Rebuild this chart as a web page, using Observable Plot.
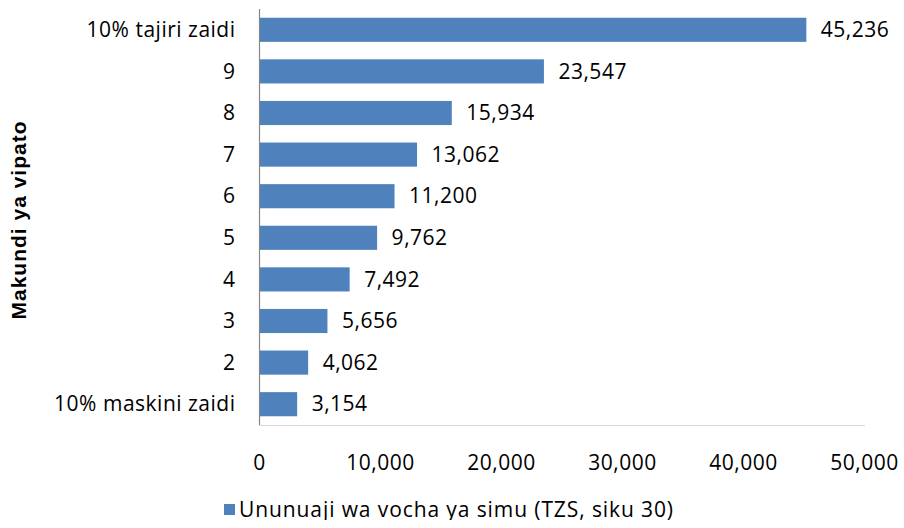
<!DOCTYPE html>
<html><head><meta charset="utf-8">
<script src="https://cdn.jsdelivr.net/npm/d3@7"></script>
<script src="https://cdn.jsdelivr.net/npm/@observablehq/plot@0.6"></script>
<style>
body{margin:0;background:#fff;font-family:"Open Sans",sans-serif;overflow:hidden}
#chart svg{display:block}
#legend{display:flex;justify-content:center;align-items:center;height:22px;line-height:22px;font-size:21px;color:#000;margin-top:12px;margin-left:-6px;letter-spacing:0.9px}
#legend span.sw{display:inline-block;width:11px;height:11px;background:#4F81BD;margin-right:4px}
</style></head>
<body>
<div id="chart"></div>
<div id="legend"><span class="sw"></span><span>Ununuaji wa vocha ya simu (TZS, siku 30)</span></div>
<script>
const categories = ["10% tajiri zaidi","9","8","7","6","5","4","3","2","10% maskini zaidi"];
const values = [45236,23547,15934,13062,11200,9762,7492,5656,4062,3154];
const xTicks = [0,10000,20000,30000,40000,50000];
const seriesName = "Ununuaji wa vocha ya simu (TZS, siku 30)";
const yTitle = "Makundi ya vipato";

const data = categories.map((c,i)=>({cat:c, v:values[i]}));
const fmt = d3.format(",");

const plot = Plot.plot({
  width: 904,
  height: 486,
  marginLeft: 259,
  marginRight: 40,
  marginTop: 9,
  marginBottom: 61,
  style: {fontFamily: '"Open Sans", sans-serif', fontSize: "21px", color: "#000", background: "#fff", letterSpacing: "0.5px"},
  x: {domain: [0, 50000], ticks: xTicks, tickFormat: fmt, label: null},
  y: {domain: categories, label: null, paddingInner: 0.42, paddingOuter: 0.21, round: false},
  marks: [
    Plot.barX(data, {x: "v", y: "cat", fill: "#4F81BD"}),
    Plot.text(data, {x: "v", y: "cat", text: d => fmt(d.v), dx: 14, textAnchor: "start", fontSize: 21, fill: "#000"}),
    Plot.frame({anchor: "bottom", stroke: "#d9d9d9"}),
    Plot.ruleX([0], {stroke: "#868686", strokeWidth: 1.2}),
    Plot.axisX({ticks: xTicks, tickFormat: fmt, tickSize: 0, tickPadding: 30, fontSize: 21, label: null}),
    Plot.axisY({tickSize: 0, tickPadding: 24, fontSize: 21, label: null}),
  ]
});
document.getElementById("chart").appendChild(plot);

// y axis title
const svg = d3.select(plot);
svg.append("text")
  .attr("transform", "translate(20,220) rotate(-90)")
  .attr("text-anchor", "middle")
  .attr("dominant-baseline", "middle")
  .style("font-family", '"Liberation Sans", Arial, sans-serif')
  .style("font-weight", "bold")
  .style("font-size", "21px")
  .style("letter-spacing", "1px")
  .text(yTitle);
</script>
</body></html>
